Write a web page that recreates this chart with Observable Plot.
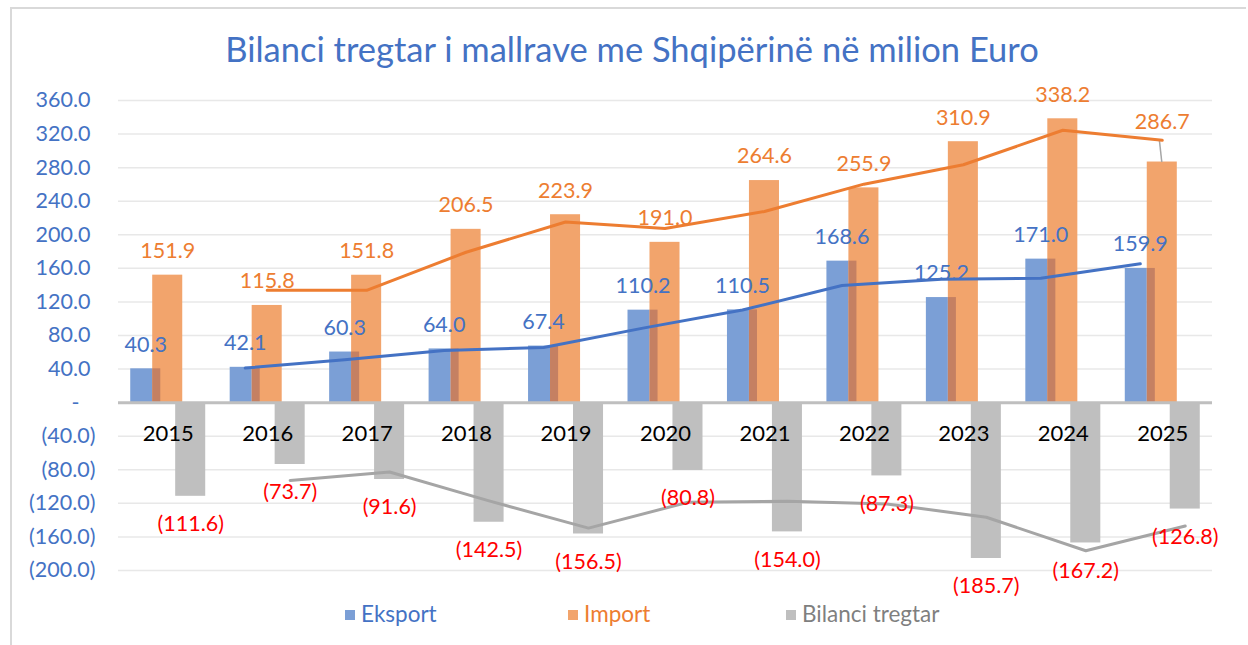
<!DOCTYPE html>
<html>
<head>
<meta charset="utf-8">
<script src="https://cdn.jsdelivr.net/npm/d3@7"></script>
<script src="https://cdn.jsdelivr.net/npm/@observablehq/plot@0.6"></script>
<style>
  html, body { margin: 0; padding: 0; background: #fff; }
  #wrap { position: relative; width: 1248px; height: 645px; overflow: hidden; font-family: Lato, "Open Sans", sans-serif; }
  #frame { position: absolute; left: 10px; top: 7px; width: 1236px; height: 660px; border-left: 2px solid #D9D9D9; border-top: 2px solid #D9D9D9; box-sizing: border-box; }
  #title { position: absolute; top: 29px; left: 632px; transform: translateX(-50%); white-space: nowrap; color: #4472C4; font-size: 34.5px; line-height: 40px; }
  #chart { position: absolute; left: 0; top: 0; }
  .leg { position: absolute; top: 601px; font-size: 22.5px; line-height: 26px; white-space: nowrap; }
  .leg i { display: inline-block; width: 10px; height: 10px; margin-right: 6px; vertical-align: 2px; }
</style>
</head>
<body>
<div id="wrap">
  <div id="frame"></div>
  <div id="title">Bilanci tregtar i mallrave me Shqipërinë në milion Euro</div>
  <div id="chart"></div>
  <div class="leg" style="left:345px;color:#4472C4"><i style="background:#7B9FD6"></i>Eksport</div>
  <div class="leg" style="left:568px;color:#ED7D31"><i style="background:#F2A46C"></i>Import</div>
  <div class="leg" style="left:786px;color:#7F7F7F"><i style="background:#BFBFBF"></i>Bilanci tregtar</div>
</div>
<script>
// ---- data ----
const years = [2015, 2016, 2017, 2018, 2019, 2020, 2021, 2022, 2023, 2024, 2025];
const eksport = [40.3, 42.1, 60.3, 64.0, 67.4, 110.2, 110.5, 168.6, 125.2, 171.0, 159.9];
const importi = [151.9, 115.8, 151.8, 206.5, 223.9, 191.0, 264.6, 255.9, 310.9, 338.2, 286.7];
const bilanci = [-111.6, -73.7, -91.6, -142.5, -156.5, -80.8, -154.0, -87.3, -185.7, -167.2, -126.8];
// trend lines
const trendYears = [2016, 2017, 2018, 2019, 2020, 2021, 2022, 2023, 2024, 2025];
const trendEksport = [41.2, 51.2, 62.2, 65.7, 88.8, 110.4, 139.6, 146.9, 148.1, 165.5];
const trendImport = [133.9, 133.8, 179.2, 215.2, 207.5, 227.8, 260.3, 283.4, 324.6, 312.5];
const trendBilanci = [-92.7, -82.7, -117.1, -149.5, -118.7, -117.4, -120.7, -136.5, -176.5, -147.0];
const yTicks = [-200, -160, -120, -80, -40, 0, 40, 80, 120, 160, 200, 240, 280, 320, 360];

// ---- tables ----
const rows = years.map((year, i) => ({year, eksport: eksport[i], importi: importi[i], bilanci: bilanci[i]}));
const trend = trendYears.map((year, i) => ({year, eksport: trendEksport[i], importi: trendImport[i], bilanci: trendBilanci[i]}));

// bar geometry within a category (in year units)
const HALF = 0.151;
const OFF_E = -0.226, OFF_I = -0.005, OFF_B = 0.226;

const colE = "#4472C4", colI = "#ED7D31", colB = "#A5A5A5";
const f1 = d3.format(".1f");

const chart = Plot.plot({
  width: 1248,
  height: 645,
  marginTop: 100,
  marginBottom: 75,
  marginLeft: 118,
  marginRight: 36,
  x: {type: "linear", domain: [2014.5, 2025.5], axis: null},
  y: {domain: [-200, 360], axis: null},
  style: {fontFamily: "Lato, 'Open Sans', sans-serif", background: "transparent", overflow: "visible"},
  marks: [
    Plot.ruleY(yTicks.filter(d => d !== 0), {stroke: "#E8E8E8", strokeWidth: 1.5}),
    // bars
    Plot.rectY(rows, {x1: d => d.year + OFF_B - HALF, x2: d => d.year + OFF_B + HALF, y1: 0, y2: "bilanci", fill: "#BFBFBF"}),
    Plot.rectY(rows, {x1: d => d.year + OFF_I - HALF, x2: d => d.year + OFF_I + HALF, y1: 0, y2: "importi", fill: "#F2A46C"}),
    Plot.rectY(rows, {x1: d => d.year + OFF_E - HALF, x2: d => d.year + OFF_I - HALF, y1: 0, y2: "eksport", fill: "#7B9FD6"}),
    Plot.rectY(rows, {x1: d => d.year + OFF_I - HALF, x2: d => d.year + OFF_E + HALF, y1: 0, y2: d => Math.min(d.eksport, d.importi), fill: "#C58062"}),
    Plot.ruleY([0], {stroke: "#BFBFBF", strokeWidth: 3}),
    // leader line for the moved 2025 import label
    Plot.link(rows.filter(d => d.year === 2025), {x1: d => d.year + OFF_I - 0.03, x2: d => d.year + OFF_I - 0.005, y1: d => d.importi + 27, y2: "importi", stroke: "#A6A6A6", strokeWidth: 1.5}),
    // trend lines
    Plot.line(trend, {x: d => d.year + OFF_B, y: "bilanci", stroke: colB, strokeWidth: 3}),
    Plot.line(trend, {x: d => d.year + OFF_I, y: "importi", stroke: colI, strokeWidth: 3}),
    Plot.line(trend, {x: d => d.year + OFF_E, y: "eksport", stroke: colE, strokeWidth: 3}),
    // y axis labels (accounting style)
    Plot.axisY({ticks: yTicks.filter(d => d > 0), tickSize: 0, tickPadding: 28, tickFormat: d => f1(d), fill: "#4472C4", fontSize: 21.5}),
    Plot.axisY({ticks: yTicks.filter(d => d < 0), tickSize: 0, tickPadding: 23, tickFormat: d => `(${f1(-d)})`, fill: "#4472C4", fontSize: 21.5}),
    Plot.axisY({ticks: [0], tickSize: 0, tickPadding: 39, tickFormat: () => "-", fill: "#4472C4", fontSize: 21.5}),
    // category labels just below the zero line
    Plot.text(years, {x: d => d, y: 0, dy: 31, text: d => String(d), fill: "#000", fontSize: 22}),
    // data labels
    Plot.text(rows, {x: d => d.year + OFF_E, y: "eksport", dy: -24, text: d => f1(d.eksport), fill: colE, fontSize: 21.5}),
    Plot.text(rows.filter(d => d.year !== 2025), {x: d => d.year + OFF_I, y: "importi", dy: -24, text: d => f1(d.importi), fill: colI, fontSize: 21.5}),
    Plot.text(rows.filter(d => d.year === 2025), {x: d => d.year + OFF_I, y: "importi", dy: -40, text: d => f1(d.importi), fill: colI, fontSize: 21.5}),
    Plot.text(rows, {x: d => d.year + OFF_B, y: "bilanci", dy: 28, text: d => `(${f1(-d.bilanci)})`, fill: "#FF0000", fontSize: 21.5})
  ]
});
document.getElementById("chart").appendChild(chart);
</script>
</body>
</html>
